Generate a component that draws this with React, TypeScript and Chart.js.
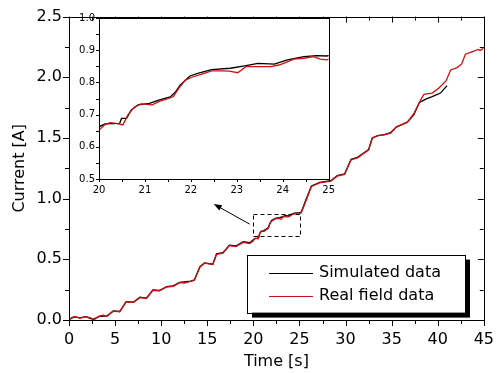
import React, { useEffect, useRef } from "react";
import { Chart, registerables } from "chart.js";
Chart.register(...registerables);

// ---- data ----
const realTime = [0, 0.3, 0.65, 1.2, 1.7, 2.3, 2.7, 3.2, 3.7, 4.1, 4.8, 5.5, 6.2, 7.0, 7.7, 8.4, 9.1, 9.8, 10.6, 11.3, 12.0, 12.5, 13.2, 13.6, 14.2, 14.7, 15.6, 16.0, 16.7, 17.4, 18.1, 18.9, 19.6, 20.0, 20.12, 20.24, 20.38, 20.52, 20.63, 20.77, 20.91, 21.16, 21.3, 21.52, 21.62, 21.74, 21.88, 22.02, 22.24, 22.45, 22.67, 22.84, 23.02, 23.2, 23.45, 23.74, 23.92, 24.1, 24.24, 24.46, 24.67, 24.82, 24.96, 25.2, 25.7, 26.3, 27.2, 28.4, 29.1, 29.9, 30.6, 31.3, 32.0, 32.5, 32.9, 33.5, 34.2, 34.9, 35.5, 36.7, 37.4, 38.2, 38.5, 39.4, 40.1, 40.9, 41.4, 42.1, 42.6, 43.0, 43.7, 44.4, 44.6, 45.0];
const realCurrent = [0.0, 0.02, 0.03, 0.014, 0.027, 0.019, 0.0, 0.03, 0.04, 0.03, 0.073, 0.068, 0.15, 0.145, 0.185, 0.177, 0.245, 0.24, 0.272, 0.278, 0.308, 0.305, 0.318, 0.327, 0.435, 0.468, 0.457, 0.54, 0.55, 0.613, 0.605, 0.64, 0.63, 0.652, 0.668, 0.675, 0.673, 0.668, 0.699, 0.723, 0.733, 0.73, 0.74, 0.75, 0.756, 0.782, 0.807, 0.816, 0.826, 0.836, 0.836, 0.835, 0.83, 0.849, 0.849, 0.849, 0.854, 0.864, 0.872, 0.875, 0.88, 0.872, 0.87, 0.885, 0.98, 1.1, 1.13, 1.144, 1.185, 1.2, 1.32, 1.335, 1.375, 1.4, 1.5, 1.52, 1.525, 1.54, 1.59, 1.63, 1.7, 1.82, 1.86, 1.87, 1.91, 1.97, 2.06, 2.08, 2.11, 2.19, 2.21, 2.23, 2.22, 2.24];

const simTime = [0, 0.6, 1.2, 1.8, 2.6, 3.3, 4.1, 4.8, 5.5, 6.2, 7.0, 7.7, 8.4, 9.1, 9.8, 10.6, 11.3, 12.0, 13.2, 13.6, 14.2, 14.7, 15.6, 16.0, 16.7, 17.4, 18.1, 18.9, 19.6, 20.0, 20.13, 20.45, 20.49, 20.6, 20.7, 20.85, 21.1, 21.3, 21.55, 21.67, 21.77, 21.98, 22.15, 22.45, 22.86, 23.17, 23.46, 23.82, 24.1, 24.46, 24.74, 24.96, 25.2, 25.7, 26.3, 27.2, 28.4, 29.1, 29.9, 30.6, 31.3, 32.0, 32.5, 32.9, 33.5, 34.2, 34.9, 35.5, 36.7, 37.4, 38.0, 38.2, 38.7, 39.4, 40.3, 41.0];
const simCurrent = [0.005, 0.025, 0.018, 0.028, 0.005, 0.03, 0.033, 0.075, 0.07, 0.152, 0.148, 0.188, 0.18, 0.248, 0.243, 0.275, 0.282, 0.31, 0.32, 0.33, 0.44, 0.47, 0.46, 0.545, 0.555, 0.617, 0.61, 0.645, 0.637, 0.662, 0.671, 0.673, 0.688, 0.688, 0.714, 0.73, 0.735, 0.745, 0.755, 0.771, 0.792, 0.82, 0.828, 0.84, 0.844, 0.851, 0.859, 0.857, 0.87, 0.88, 0.883, 0.882, 0.89, 0.99, 1.105, 1.135, 1.148, 1.19, 1.205, 1.325, 1.34, 1.378, 1.405, 1.5, 1.52, 1.528, 1.545, 1.59, 1.63, 1.69, 1.79, 1.8, 1.82, 1.84, 1.87, 1.93];

const seriesLabels = ["Simulated data", "Real field data"];
const seriesColors = ["#000000", "#d01010"];

const mainXRange = [0, 45];
const mainYRange = [0, 2.5];
const mainXMinorStep = 2.5;
const mainYMinorStep = 0.25;
const insetXRange = [20, 25];
const insetYRange = [0.5, 1.0];
const insetXMinorStep = 0.5;
const insetYMinorStep = 0.05;

// dashed zoom box (data coords) and arrow (data coords)
const zoomBoxX = [20.0, 25.1];
const zoomBoxY = [0.695, 0.875];
const arrowFromXY = [19.6, 0.79];
const arrowToXY = [15.7, 0.955];

const FONT = "'DejaVu Sans', sans-serif";

function toPoints(xs: number[], ys: number[]) {
  return xs.map((x, i) => ({ x, y: ys[i] }));
}

function datasets() {
  return [
    {
      label: seriesLabels[1],
      data: toPoints(realTime, realCurrent),
      borderColor: seriesColors[1],
      borderWidth: 1.3,
      pointRadius: 0,
      tension: 0,
    },
    {
      label: seriesLabels[0],
      data: toPoints(simTime, simCurrent),
      borderColor: seriesColors[0],
      borderWidth: 1.3,
      pointRadius: 0,
      tension: 0,
    },
  ];
}

function ticksBetween(min: number, max: number, step: number) {
  const out: number[] = [];
  const n = Math.round((max - min) / step);
  for (let i = 0; i <= n; i++) out.push(min + i * step);
  return out;
}

const h = (v: number) => Math.round(v) + 0.5;

const mainFramePlugin = {
  id: "mainFrame",
  afterDraw(chart: any) {
    const { ctx, chartArea: a, scales } = chart;
    const xs = scales.x, ys = scales.y;
    ctx.save();
    ctx.strokeStyle = "#000";
    ctx.lineWidth = 1;
    ctx.strokeRect(h(a.left), h(a.top), Math.round(a.right - a.left), Math.round(a.bottom - a.top));
    ctx.beginPath();
    ticksBetween(mainXRange[0], mainXRange[1], mainXMinorStep).forEach((v, i) => {
      const px = h(xs.getPixelForValue(v));
      const len = i % 2 === 0 ? 6 : 4;
      ctx.moveTo(px, a.bottom); ctx.lineTo(px, a.bottom + len);
      ctx.moveTo(px, a.top); ctx.lineTo(px, a.top + len);
    });
    ticksBetween(mainYRange[0], mainYRange[1], mainYMinorStep).forEach((v, i) => {
      const py = h(ys.getPixelForValue(v));
      const len = i % 2 === 0 ? 6 : 4;
      ctx.moveTo(a.left, py); ctx.lineTo(a.left - len, py);
      ctx.moveTo(a.right, py); ctx.lineTo(a.right - len, py);
    });
    ctx.stroke();

    // dashed zoom box
    const bx0 = h(xs.getPixelForValue(zoomBoxX[0]));
    const bx1 = h(xs.getPixelForValue(zoomBoxX[1]));
    const by0 = h(ys.getPixelForValue(zoomBoxY[1]));
    const by1 = h(ys.getPixelForValue(zoomBoxY[0]));
    ctx.setLineDash([4, 3]);
    ctx.strokeRect(bx0, by0, bx1 - bx0, by1 - by0);
    ctx.setLineDash([]);

    // arrow
    const ax0 = xs.getPixelForValue(arrowFromXY[0]);
    const ay0 = ys.getPixelForValue(arrowFromXY[1]);
    const ax1 = xs.getPixelForValue(arrowToXY[0]);
    const ay1 = ys.getPixelForValue(arrowToXY[1]);
    const ang = Math.atan2(ay1 - ay0, ax1 - ax0);
    ctx.beginPath();
    ctx.moveTo(ax0, ay0);
    ctx.lineTo(ax1 - 5 * Math.cos(ang), ay1 - 5 * Math.sin(ang));
    ctx.stroke();
    ctx.beginPath();
    ctx.fillStyle = "#000";
    ctx.moveTo(ax1, ay1);
    ctx.lineTo(ax1 - 8 * Math.cos(ang) + 3 * Math.sin(ang), ay1 - 8 * Math.sin(ang) - 3 * Math.cos(ang));
    ctx.lineTo(ax1 - 8 * Math.cos(ang) - 3 * Math.sin(ang), ay1 - 8 * Math.sin(ang) + 3 * Math.cos(ang));
    ctx.closePath();
    ctx.fill();

    // legend box with shadow
    const lx = a.left + 178, ly = a.top + 238, lw = 218, lh = 58;
    ctx.fillStyle = "#000";
    ctx.fillRect(lx + 5, ly + 5, lw, lh);
    ctx.fillStyle = "#fff";
    ctx.fillRect(lx, ly, lw, lh);
    ctx.strokeRect(h(lx), h(ly), lw, lh);
    ctx.font = `16px ${FONT}`;
    ctx.textBaseline = "middle";
    ctx.textAlign = "left";
    seriesLabels.forEach((lab, i) => {
      const yy = ly + 18 + i * 23;
      ctx.strokeStyle = seriesColors[i];
      ctx.lineWidth = 1.2;
      ctx.beginPath();
      ctx.moveTo(lx + 22, h(yy));
      ctx.lineTo(lx + 66, h(yy));
      ctx.stroke();
      ctx.fillStyle = "#000";
      ctx.fillText(lab, lx + 72, yy);
    });
    ctx.restore();
  },
};

const insetFramePlugin = {
  id: "insetFrame",
  beforeDatasetsDraw(chart: any) {
    const { ctx, chartArea: a } = chart;
    ctx.save();
    ctx.fillStyle = "#fff";
    ctx.fillRect(a.left, a.top, a.right - a.left, a.bottom - a.top);
    ctx.restore();
  },
  afterDraw(chart: any) {
    const { ctx, chartArea: a, scales } = chart;
    ctx.save();
    ctx.strokeStyle = "#000";
    ctx.lineWidth = 1;
    ctx.strokeRect(h(a.left), h(a.top), Math.round(a.right - a.left), Math.round(a.bottom - a.top));
    ctx.beginPath();
    ticksBetween(insetXRange[0], insetXRange[1], insetXMinorStep).forEach((v) => {
      const px = h(scales.x.getPixelForValue(v));
      ctx.moveTo(px, a.bottom); ctx.lineTo(px, a.bottom + 3);
    });
    ticksBetween(insetYRange[0], insetYRange[1], insetYMinorStep).forEach((v) => {
      const py = h(scales.y.getPixelForValue(v));
      ctx.moveTo(a.left, py); ctx.lineTo(a.left - 3, py);
    });
    ctx.stroke();
    ctx.restore();
  },
};

export default function App() {
  const mainRef = useRef<HTMLCanvasElement>(null);
  const insetRef = useRef<HTMLCanvasElement>(null);

  useEffect(() => {
    const main = new Chart(mainRef.current!, {
      type: "line",
      data: { datasets: datasets() as any },
      options: {
        responsive: false,
        animation: false,
        devicePixelRatio: 1,
        layout: { padding: { top: 14, right: 19, left: 0, bottom: 0 } },
        plugins: { legend: { display: false }, tooltip: { enabled: false } },
        scales: {
          x: {
            type: "linear",
            min: mainXRange[0],
            max: mainXRange[1],
            grid: { display: false, drawTicks: false },
            border: { display: false },
            ticks: {
              stepSize: 5,
              padding: 10,
              color: "#000",
              font: { family: FONT, size: 16 },
              maxRotation: 0,
            },
            title: {
              display: true,
              text: "Time [s]",
              color: "#000",
              font: { family: FONT, size: 16 },
              padding: { top: 0, bottom: 2 },
            },
            afterFit: (s: any) => { s.height = 53; },
          },
          y: {
            type: "linear",
            min: mainYRange[0],
            max: mainYRange[1],
            grid: { display: false, drawTicks: false },
            border: { display: false },
            ticks: {
              stepSize: 0.5,
              padding: 7,
              color: "#000",
              font: { family: FONT, size: 16 },
              callback: (v: any) => Number(v).toFixed(1),
            },
            title: {
              display: true,
              text: "Current [A]",
              color: "#000",
              font: { family: FONT, size: 16 },
              padding: { top: 10, bottom: 0 },
            },
            afterFit: (s: any) => { s.width = 69; },
          },
        },
      } as any,
      plugins: [mainFramePlugin],
    });

    const inset = new Chart(insetRef.current!, {
      type: "line",
      data: { datasets: datasets() as any },
      options: {
        responsive: false,
        animation: false,
        devicePixelRatio: 1,
        layout: { padding: { top: 10, right: 8, left: 0, bottom: 0 } },
        plugins: { legend: { display: false }, tooltip: { enabled: false } },
        scales: {
          x: {
            type: "linear",
            min: insetXRange[0],
            max: insetXRange[1],
            grid: { display: false, drawTicks: false },
            border: { display: false },
            ticks: {
              stepSize: 1,
              padding: 5,
              color: "#000",
              font: { family: FONT, size: 10 },
              maxRotation: 0,
            },
            afterFit: (s: any) => { s.height = 21; },
          },
          y: {
            type: "linear",
            min: insetYRange[0],
            max: insetYRange[1],
            grid: { display: false, drawTicks: false },
            border: { display: false },
            ticks: {
              stepSize: 0.1,
              padding: 4,
              color: "#000",
              font: { family: FONT, size: 10 },
              callback: (v: any) => Number(v).toFixed(1),
            },
            afterFit: (s: any) => { s.width = 29; },
          },
        },
      } as any,
      plugins: [insetFramePlugin],
    });

    return () => {
      main.destroy();
      inset.destroy();
    };
  }, []);

  return (
    <div style={{ position: "fixed", left: 0, top: 0, width: 504, height: 373, background: "#fff" }}>
      <canvas ref={mainRef} width={504} height={373} style={{ position: "absolute", left: 0, top: 0 }} />
      <canvas ref={insetRef} width={270} height={192} style={{ position: "absolute", left: 70, top: 8 }} />
    </div>
  );
}
